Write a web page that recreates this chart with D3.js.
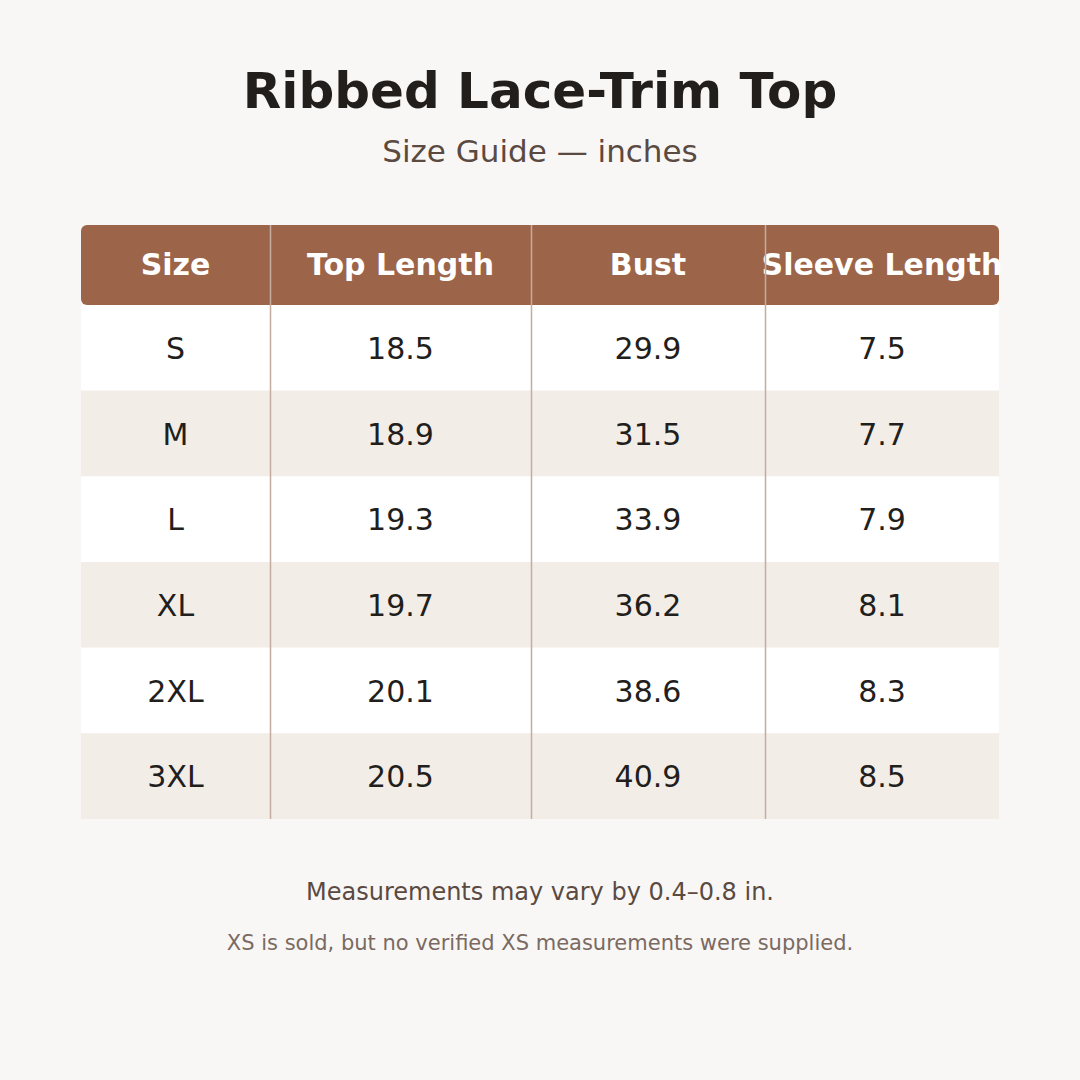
<!DOCTYPE html><html><head><meta charset="utf-8">
<script src="https://cdn.jsdelivr.net/npm/d3@7"></script>
<style>body{margin:0;background:#f9f7f5}</style></head><body>
<svg id="c" width="1080" height="1080"></svg>
<script>
const columns = ["Size","Top Length","Bust","Sleeve Length"];
const sizes = ["S","M","L","XL","2XL","3XL"];
const topLength = ["18.5","18.9","19.3","19.7","20.1","20.5"];
const bust = ["29.9","31.5","33.9","36.2","38.6","40.9"];
const sleeveLength = ["7.5","7.7","7.9","8.1","8.3","8.5"];
const rows = sizes.map((s,i)=>[s,topLength[i],bust[i],sleeveLength[i]]);

const svg = d3.select("#c");
const F = "DejaVu Sans, sans-serif";
svg.append("rect").attr("width",1080).attr("height",1080).attr("fill","#f9f7f5");
svg.append("text").attr("x",540).attr("y",108).attr("text-anchor","middle").attr("font-family",F)
  .attr("font-weight","bold").attr("font-size",50).attr("fill","#221e1b").text("Ribbed Lace-Trim Top");
svg.append("text").attr("x",540).attr("y",162).attr("text-anchor","middle").attr("font-family",F)
  .attr("font-size",31).attr("fill","#5a4a42").text("Size Guide — inches");

const edges = [81,270,531,765,999];
const colX = i => edges[i], colW = i => edges[i+1]-edges[i];
const y = d3.scaleBand().domain(d3.range(rows.length)).range([305,819]);
const hTop = 225, hBot = 305;

svg.append("rect").attr("x",81).attr("y",hTop).attr("width",918).attr("height",hBot-hTop).attr("rx",6).attr("fill","#9c6549");
columns.forEach((c,i)=>svg.append("text").attr("x",colX(i)+colW(i)/2).attr("y",(hTop+hBot)/2+10)
  .attr("text-anchor","middle").attr("font-family",F).attr("font-weight","bold").attr("font-size",30)
  .attr("fill","#fff").text(c));

rows.forEach((r,ri)=>{
  svg.append("rect").attr("x",81).attr("y",y(ri)).attr("width",918).attr("height",y.bandwidth())
    .attr("fill",ri%2?"#f3ede8":"#ffffff");
  r.forEach((v,ci)=>svg.append("text").attr("x",colX(ci)+colW(ci)/2).attr("y",y(ri)+y.bandwidth()/2+11)
    .attr("text-anchor","middle").attr("font-family",F).attr("font-size",30).attr("fill","#221e1b").text(v));
});
[1,2,3].forEach(i=>svg.append("line").attr("x1",edges[i]+0.5).attr("x2",edges[i]+0.5).attr("y1",hTop).attr("y2",819)
  .attr("stroke","#c4ada0").attr("stroke-width",1.5));

svg.append("text").attr("x",540).attr("y",900).attr("text-anchor","middle").attr("font-family",F)
  .attr("font-size",24).attr("fill","#5a4a42").text("Measurements may vary by 0.4–0.8 in.");
svg.append("text").attr("x",540).attr("y",950).attr("text-anchor","middle").attr("font-family",F)
  .attr("font-size",21).attr("fill","#7a6a62").text("XS is sold, but no verified XS measurements were supplied.");
</script></body></html>
